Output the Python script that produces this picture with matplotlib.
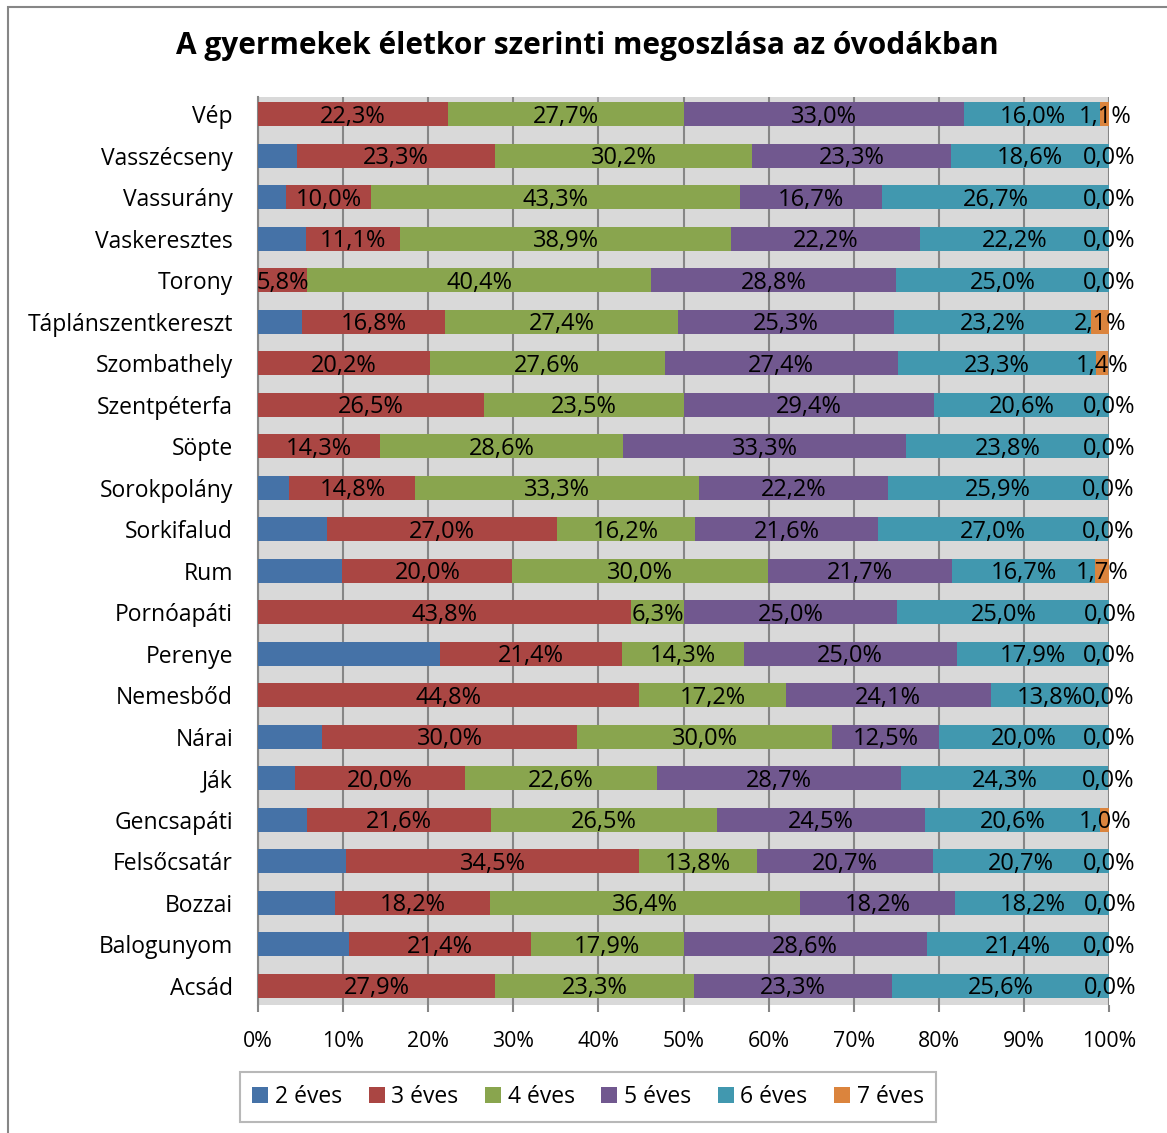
import matplotlib.pyplot as plt
import numpy as np

plt.rcParams['font.family'] = ['Open Sans', 'DejaVu Sans']

# categories, top to bottom
places = ["Vép", "Vasszécseny", "Vassurány", "Vaskeresztes", "Torony",
          "Táplánszentkereszt", "Szombathely", "Szentpéterfa", "Söpte",
          "Sorokpolány", "Sorkifalud", "Rum", "Pornóapáti", "Perenye",
          "Nemesbőd", "Nárai", "Ják", "Gencsapáti", "Felsőcsatár", "Bozzai",
          "Balogunyom", "Acsád"]

age2 = [0.0, 4.6, 3.3, 5.6, 0.0, 5.2, 0.0, 0.0, 0.0, 3.7, 8.1, 9.9,
        0.0, 21.4, 0.0, 7.5, 4.3, 5.8, 10.3, 9.1, 10.7, 0.0]
age3 = [22.3, 23.3, 10.0, 11.1, 5.8, 16.8, 20.2, 26.5, 14.3, 14.8, 27.0, 20.0,
        43.8, 21.4, 44.8, 30.0, 20.0, 21.6, 34.5, 18.2, 21.4, 27.9]
age4 = [27.7, 30.2, 43.3, 38.9, 40.4, 27.4, 27.6, 23.5, 28.6, 33.3, 16.2, 30.0,
        6.3, 14.3, 17.2, 30.0, 22.6, 26.5, 13.8, 36.4, 17.9, 23.3]
age5 = [33.0, 23.3, 16.7, 22.2, 28.8, 25.3, 27.4, 29.4, 33.3, 22.2, 21.6, 21.7,
        25.0, 25.0, 24.1, 12.5, 28.7, 24.5, 20.7, 18.2, 28.6, 23.3]
age6 = [16.0, 18.6, 26.7, 22.2, 25.0, 23.2, 23.3, 20.6, 23.8, 25.9, 27.0, 16.7,
        25.0, 17.9, 13.8, 20.0, 24.3, 20.6, 20.7, 18.2, 21.4, 25.6]
age7 = [1.1, 0.0, 0.0, 0.0, 0.0, 2.1, 1.4, 0.0, 0.0, 0.0, 0.0, 1.7,
        0.0, 0.0, 0.0, 0.0, 0.0, 1.0, 0.0, 0.0, 0.0, 0.0]

series = [age2, age3, age4, age5, age6, age7]
names = ["2 éves", "3 éves", "4 éves", "5 éves", "6 éves", "7 éves"]
colors = ["#4572A7", "#AA4643", "#89A54E", "#71588F", "#4198AF", "#DB843D"]

fig = plt.figure(figsize=(11.67, 11.33), dpi=100)
W, H = 1167, 1133
ax = fig.add_axes([258 / W, 1 - 1005 / H, (1109 - 258) / W, (1005 - 97) / H])
ax.set_facecolor("#D9D9D9")

y = np.arange(len(places))
left = np.zeros(len(places))
for i, (vals, name, col) in enumerate(zip(series, names, colors)):
    vals = np.array(vals) / 100
    ax.barh(y, vals, left=left, height=0.58, color=col, label=name, zorder=3)
    # the 2 year olds carry no data labels
    if i > 0:
        for yy, l, v in zip(y, left, vals):
            ax.text(l + v / 2, yy + 0.06, "{:.1f}%".format(v * 100).replace(".", ","),
                    ha="center", va="center", fontsize=17, color="black", zorder=5)
    left = left + vals

ax.set_xlim(0, 1)
ax.set_ylim(21.46, -0.41)
ax.set_yticks(y)
ax.set_yticklabels(places, fontsize=16.5)
ax.set_xticks(np.arange(0, 1.01, 0.1))
ax.set_xticklabels(["{:d}%".format(int(round(t * 100))) for t in np.arange(0, 1.01, 0.1)],
                   fontsize=15.3)
ax.tick_params(axis="y", length=0, pad=18)
ax.tick_params(axis="x", length=5, color="#868686", width=1.5, pad=14)
for t in ax.get_yticklabels():
    t.set_verticalalignment("center_baseline")
ax.grid(axis="x", color="#868686", linewidth=1.5, zorder=1)
ax.set_axisbelow(True)
for s in ["top", "right", "bottom"]:
    ax.spines[s].set_visible(False)
ax.spines["left"].set_color("#868686")
ax.spines["left"].set_linewidth(1.5)

fig.text(587 / W, 1 - 46 / H, "A gyermekek életkor szerinti megoszlása az óvodákban",
         ha="center", va="center", fontsize=21.5, fontweight="bold")

leg = fig.legend(loc="center", bbox_to_anchor=(588 / W, 1 - 1097 / H), ncol=6,
                 fontsize=16.5, frameon=True, fancybox=False, edgecolor="#A6A6A6",
                 handlelength=0.7, handleheight=0.7, handletextpad=0.3,
                 columnspacing=1.15, borderpad=0.55)
leg.get_frame().set_linewidth(1.5)

# outer chart border (left and top edges visible)
fig.add_artist(plt.Rectangle((8 / W, -0.1), 1.2, 1 - 7 / H + 0.1, transform=fig.transFigure,
                             fill=False, edgecolor="#868686", linewidth=1.5))

fig.savefig("out.png", dpi=100)
